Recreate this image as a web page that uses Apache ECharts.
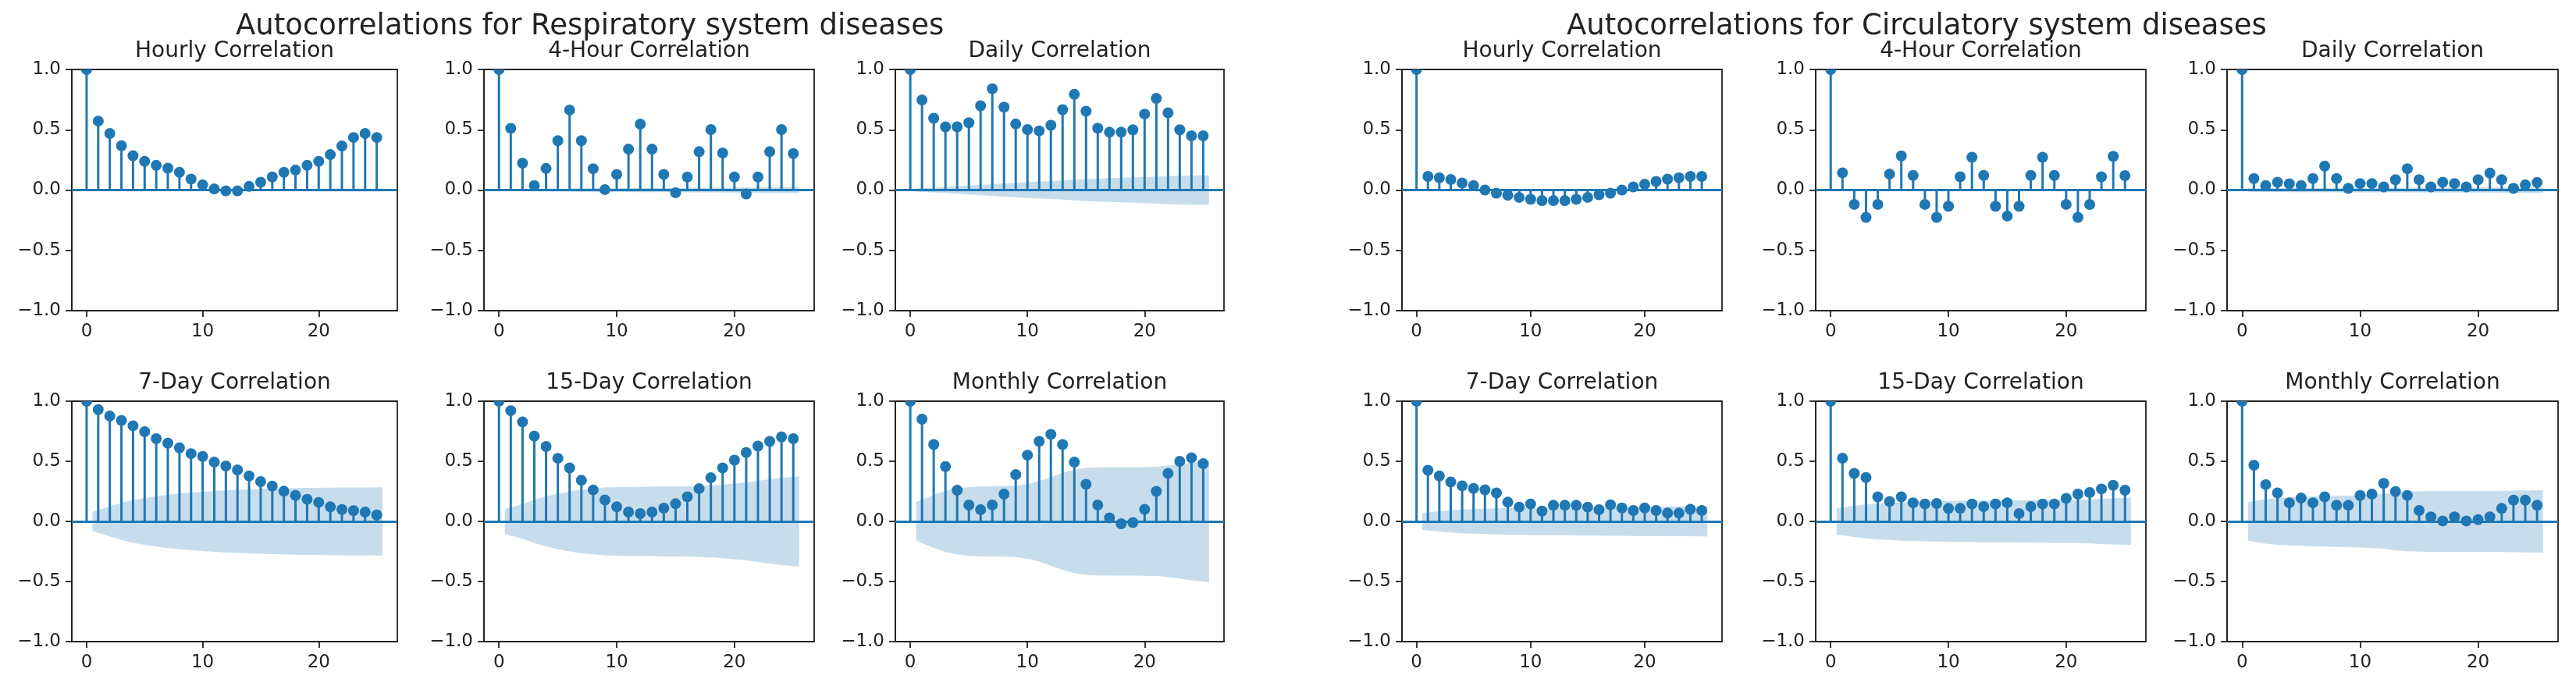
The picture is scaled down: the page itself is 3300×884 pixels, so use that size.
<!DOCTYPE html>
<html>
<head>
<meta charset="utf-8">
<script src="https://cdn.jsdelivr.net/npm/echarts@6/dist/echarts.min.js"></script>
<style>
html,body{margin:0;padding:0;background:#fff;}
#chart{width:3300px;height:884px;}
</style>
</head>
<body>
<div id="chart"></div>
<script>
// ---------- DATA ----------
const lags = [0,1,2,3,4,5,6,7,8,9,10,11,12,13,14,15,16,17,18,19,20,21,22,23,24,25];
const xTicks = [0, 10, 20];
const yTicks = [-1.0, -0.5, 0.0, 0.5, 1.0];

const suptitles = ['Autocorrelations for Respiratory system diseases', 'Autocorrelations for Circulatory system diseases'];
const panelTitles = ['Hourly Correlation', '4-Hour Correlation', 'Daily Correlation', '7-Day Correlation', '15-Day Correlation', 'Monthly Correlation'];

// Respiratory
const respHourly = [1, 0.572, 0.469, 0.367, 0.285, 0.238, 0.205, 0.181, 0.147, 0.091, 0.043, 0.009, -0.006, -0.006, 0.030, 0.065, 0.108, 0.147, 0.166, 0.205, 0.238, 0.294, 0.365, 0.436, 0.469, 0.436];
const respHourlyBand = [0.005, 0.007, 0.008, 0.009, 0.009, 0.010, 0.010, 0.010, 0.010, 0.010, 0.010, 0.010, 0.010, 0.010, 0.010, 0.010, 0.010, 0.010, 0.010, 0.011, 0.011, 0.011, 0.012, 0.012, 0.013];
const resp4Hour = [1, 0.512, 0.223, 0.037, 0.179, 0.409, 0.664, 0.409, 0.177, 0.004, 0.130, 0.339, 0.547, 0.339, 0.130, -0.022, 0.108, 0.318, 0.502, 0.307, 0.108, -0.032, 0.108, 0.318, 0.502, 0.303];
const resp4HourBand = [0.008, 0.010, 0.011, 0.011, 0.012, 0.013, 0.014, 0.015, 0.015, 0.015, 0.016, 0.017, 0.018, 0.018, 0.018, 0.019, 0.019, 0.020, 0.021, 0.021, 0.021, 0.022, 0.022, 0.023, 0.024];
const respDaily = [1, 0.747, 0.595, 0.524, 0.524, 0.558, 0.699, 0.840, 0.688, 0.548, 0.502, 0.491, 0.537, 0.667, 0.794, 0.654, 0.513, 0.480, 0.480, 0.500, 0.630, 0.760, 0.640, 0.500, 0.450, 0.450];
const respDailyBand = [0.015, 0.020, 0.025, 0.030, 0.037, 0.042, 0.048, 0.055, 0.060, 0.066, 0.070, 0.075, 0.080, 0.085, 0.090, 0.095, 0.099, 0.102, 0.105, 0.108, 0.112, 0.116, 0.119, 0.121, 0.123];
const resp7Day = [1, 0.930, 0.876, 0.839, 0.796, 0.746, 0.688, 0.651, 0.612, 0.564, 0.541, 0.493, 0.461, 0.428, 0.378, 0.331, 0.294, 0.251, 0.216, 0.184, 0.158, 0.121, 0.099, 0.089, 0.078, 0.054];
const resp7DayBand = [0.080, 0.125, 0.155, 0.178, 0.195, 0.210, 0.222, 0.232, 0.240, 0.247, 0.253, 0.258, 0.263, 0.267, 0.270, 0.273, 0.275, 0.277, 0.279, 0.280, 0.281, 0.282, 0.283, 0.283, 0.284];
const resp15Day = [1, 0.921, 0.828, 0.709, 0.623, 0.525, 0.445, 0.342, 0.262, 0.179, 0.121, 0.078, 0.065, 0.078, 0.110, 0.147, 0.205, 0.272, 0.363, 0.445, 0.510, 0.573, 0.627, 0.666, 0.703, 0.688];
const resp15DayBand = [0.105, 0.145, 0.180, 0.210, 0.230, 0.250, 0.265, 0.275, 0.282, 0.285, 0.287, 0.288, 0.289, 0.290, 0.291, 0.293, 0.296, 0.300, 0.307, 0.315, 0.325, 0.337, 0.350, 0.363, 0.375];
const respMonthly = [1, 0.850, 0.640, 0.456, 0.259, 0.136, 0.097, 0.136, 0.227, 0.389, 0.551, 0.666, 0.724, 0.640, 0.493, 0.309, 0.136, 0.030, -0.020, -0.010, 0.100, 0.250, 0.400, 0.500, 0.530, 0.480];
const respMonthlyBand = [0.160, 0.220, 0.255, 0.275, 0.285, 0.290, 0.292, 0.293, 0.297, 0.310, 0.335, 0.370, 0.405, 0.430, 0.445, 0.450, 0.452, 0.452, 0.452, 0.453, 0.455, 0.462, 0.475, 0.490, 0.505];

// Circulatory
const circHourly = [1, 0.113, 0.102, 0.087, 0.058, 0.037, 0.000, -0.026, -0.043, -0.061, -0.076, -0.087, -0.087, -0.087, -0.076, -0.061, -0.039, -0.026, 0.000, 0.026, 0.048, 0.071, 0.091, 0.102, 0.113, 0.113];
const circHourlyBand = [0.004, 0.004, 0.004, 0.004, 0.004, 0.004, 0.004, 0.004, 0.004, 0.004, 0.004, 0.004, 0.004, 0.004, 0.004, 0.004, 0.004, 0.004, 0.004, 0.004, 0.004, 0.004, 0.004, 0.004, 0.004];
const circ4Hour = [1, 0.143, -0.119, -0.227, -0.119, 0.132, 0.283, 0.121, -0.119, -0.227, -0.134, 0.110, 0.272, 0.121, -0.134, -0.216, -0.134, 0.121, 0.272, 0.121, -0.119, -0.227, -0.120, 0.110, 0.280, 0.120];
const circ4HourBand = [0.006, 0.006, 0.006, 0.007, 0.007, 0.007, 0.007, 0.007, 0.007, 0.007, 0.007, 0.008, 0.008, 0.008, 0.008, 0.008, 0.008, 0.008, 0.008, 0.008, 0.008, 0.008, 0.008, 0.009, 0.009];
const circDaily = [1, 0.095, 0.037, 0.065, 0.052, 0.037, 0.095, 0.199, 0.095, 0.015, 0.054, 0.054, 0.026, 0.086, 0.177, 0.086, 0.026, 0.065, 0.054, 0.026, 0.086, 0.141, 0.086, 0.015, 0.043, 0.063];
const circDailyBand = [0.015, 0.016, 0.016, 0.017, 0.017, 0.017, 0.018, 0.019, 0.019, 0.019, 0.019, 0.019, 0.020, 0.020, 0.020, 0.021, 0.021, 0.021, 0.021, 0.021, 0.021, 0.022, 0.022, 0.022, 0.022];
const circ7Day = [1, 0.425, 0.378, 0.328, 0.296, 0.274, 0.263, 0.237, 0.160, 0.119, 0.145, 0.086, 0.134, 0.134, 0.134, 0.119, 0.097, 0.138, 0.112, 0.091, 0.112, 0.091, 0.069, 0.069, 0.101, 0.091];
const circ7DayBand = [0.072, 0.085, 0.093, 0.099, 0.103, 0.106, 0.109, 0.111, 0.112, 0.113, 0.114, 0.115, 0.116, 0.117, 0.118, 0.119, 0.120, 0.120, 0.121, 0.122, 0.122, 0.123, 0.123, 0.124, 0.125];
const circ15Day = [1, 0.526, 0.399, 0.365, 0.205, 0.166, 0.205, 0.155, 0.145, 0.149, 0.108, 0.108, 0.145, 0.123, 0.145, 0.155, 0.065, 0.123, 0.145, 0.145, 0.192, 0.227, 0.240, 0.270, 0.300, 0.260];
const circ15DayBand = [0.110, 0.130, 0.142, 0.150, 0.155, 0.160, 0.163, 0.166, 0.168, 0.170, 0.171, 0.172, 0.173, 0.174, 0.175, 0.176, 0.177, 0.177, 0.178, 0.179, 0.181, 0.184, 0.188, 0.192, 0.197];
const circMonthly = [1, 0.468, 0.306, 0.237, 0.155, 0.194, 0.155, 0.205, 0.134, 0.134, 0.216, 0.227, 0.317, 0.248, 0.216, 0.091, 0.037, 0.004, 0.037, 0.004, 0.015, 0.037, 0.108, 0.177, 0.177, 0.134];
const circMonthlyBand = [0.160, 0.185, 0.195, 0.200, 0.203, 0.207, 0.210, 0.213, 0.215, 0.218, 0.222, 0.228, 0.240, 0.248, 0.252, 0.253, 0.253, 0.253, 0.253, 0.253, 0.253, 0.254, 0.256, 0.258, 0.260];

// ---------- LAYOUT ----------
const FONT = 'DejaVu Sans';
const BLUE = '#1f77b4';
const TXT = '#222222';
const colLeft = [92, 620, 1147, 1796, 2326, 2853];
const colWidth = [417, 423, 421, 410, 423, 424];
const rowTop = [89, 514];
const rowHeight = [309, 308];
const titleTop = [52, 477];

const panels = [
  [respHourly, respHourlyBand, 0, 0, 0],
  [resp4Hour, resp4HourBand, 1, 0, 1],
  [respDaily, respDailyBand, 2, 0, 2],
  [resp7Day, resp7DayBand, 0, 1, 3],
  [resp15Day, resp15DayBand, 1, 1, 4],
  [respMonthly, respMonthlyBand, 2, 1, 5],
  [circHourly, circHourlyBand, 3, 0, 0],
  [circ4Hour, circ4HourBand, 4, 0, 1],
  [circDaily, circDailyBand, 5, 0, 2],
  [circ7Day, circ7DayBand, 3, 1, 3],
  [circ15Day, circ15DayBand, 4, 1, 4],
  [circMonthly, circMonthlyBand, 5, 1, 5]
];

// statsmodels-style band x positions: first lag -0.5, last lag +0.5
const bandLags = lags.slice(1).map((l, i, a) => i === 0 ? l - 0.5 : (i === a.length - 1 ? l + 0.5 : l));

const grids = [], xAxes = [], yAxes = [], series = [], titles = [];

titles.push({text: suptitles[0], left: 302, top: 16, padding: 0, textAlign: 'left',
  textStyle: {fontFamily: FONT, fontSize: 37, fontWeight: 'normal', color: TXT}});
titles.push({text: suptitles[1], left: 2007, top: 16, padding: 0, textAlign: 'left',
  textStyle: {fontFamily: FONT, fontSize: 37, fontWeight: 'normal', color: TXT}});

panels.forEach((p, idx) => {
  const [acf, band, col, row, tIdx] = p;
  grids.push({left: colLeft[col], top: rowTop[row], width: colWidth[col], height: rowHeight[row],
    show: true, borderColor: TXT, borderWidth: 1.8, backgroundColor: 'transparent', containLabel: false});
  xAxes.push({type: 'value', gridIndex: idx, min: -1.275, max: 26.775,
    splitLine: {show: false},
    axisLine: {show: true, onZero: false, lineStyle: {color: TXT, width: 1.8}},
    axisTick: {show: true, inside: false, length: 8, customValues: xTicks, lineStyle: {color: TXT, width: 1.8}},
    axisLabel: {show: true, customValues: xTicks, margin: 16, fontFamily: FONT, fontSize: 23, color: TXT,
      formatter: v => String(v)}
  });
  yAxes.push({type: 'value', gridIndex: idx, min: -1, max: 1, interval: 0.5,
    splitLine: {show: false},
    axisLine: {show: true, onZero: false, lineStyle: {color: TXT, width: 1.8}},
    axisTick: {show: true, inside: false, length: 8, lineStyle: {color: TXT, width: 1.8}},
    axisLabel: {show: true, margin: 14, fontFamily: FONT, fontSize: 23, color: TXT,
      formatter: v => v.toFixed(1).replace('-', '\u2212')}
  });
  titles.push({text: panelTitles[tIdx], left: colLeft[col] + colWidth[col] / 2, top: titleTop[row], padding: 0,
    textAlign: 'center', textStyle: {fontFamily: FONT, fontSize: 28, fontWeight: 'normal', color: TXT}});

  const bandUp = bandLags.map((x, i) => [x, band[i]]);
  const bandDn = bandLags.map((x, i) => [x, -band[i]]);
  [bandUp, bandDn].forEach(d => {
    series.push({type: 'line', xAxisIndex: idx, yAxisIndex: idx, data: d, showSymbol: false, symbol: 'none',
      silent: true, z: 1, lineStyle: {width: 0, opacity: 0},
      areaStyle: {color: 'rgba(31,119,180,0.25)', opacity: 1}, animation: false});
  });
  series.push({
    type: 'custom', xAxisIndex: idx, yAxisIndex: idx, clip: true, z: 3, silent: true, animation: false,
    data: lags.map((l, i) => [l, acf[i]]),
    renderItem: (params, api) => {
      const x = api.value(0), y = api.value(1);
      const p0 = api.coord([x, 0]);
      const p1 = api.coord([x, y]);
      return {type: 'group', children: [
        {type: 'line', shape: {x1: p0[0], y1: p0[1], x2: p1[0], y2: p1[1]}, style: {stroke: BLUE, lineWidth: 3}},
        {type: 'circle', shape: {cx: p1[0], cy: p1[1], r: 7}, style: {fill: BLUE}}
      ]};
    },
    markLine: {silent: true, symbol: ['none', 'none'], animation: false, label: {show: false},
      lineStyle: {color: BLUE, width: 3, type: 'solid', opacity: 1},
      data: [{yAxis: 0}]}
  });
});

const chart = echarts.init(document.getElementById('chart'), null, {renderer: 'canvas'});
chart.setOption({
  backgroundColor: '#ffffff',
  animation: false,
  title: titles,
  grid: grids,
  xAxis: xAxes,
  yAxis: yAxes,
  series: series
});
</script>
</body>
</html>
